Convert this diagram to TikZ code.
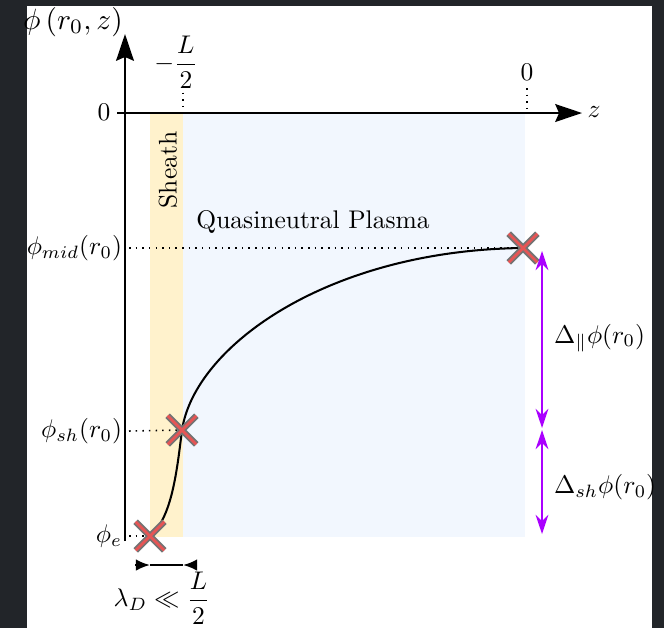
\documentclass[tikz,border=0pt]{standalone}
\usepackage{amsmath}
\usepackage{amssymb}
\usepackage{xcolor}
\definecolor{shotdark}{RGB}{34,37,41}
\definecolor{sheathyellow}{RGB}{255,242,204}
\definecolor{plasmablue}{RGB}{242,247,254}
\definecolor{crossred}{RGB}{230,85,85}
\definecolor{crossgray}{RGB}{115,115,115}
\definecolor{deltaviolet}{RGB}{170,0,255}
\usetikzlibrary{arrows.meta, positioning, shapes.misc}

\tikzset{
  axisline/.style={line width=0.8pt, -{Stealth[length=10.5pt,width=7pt,inset=1.5pt]}},
  levelline/.style={dotted, line width=0.6pt},
  xmark/.style={cross out, draw=crossgray, double=crossred, double distance=1.1pt,
    line width=0.7pt, minimum size=10.5pt, inner sep=0pt},
  deltaarrow/.style={deltaviolet, line width=0.8pt,
    {Stealth[length=7.5pt,width=5pt]}-{Stealth[length=7.5pt,width=5pt]}},
  lambdaarrow/.style={line width=0.8pt, -{Latex[length=5.5pt,width=4.5pt]}},
}

\begin{document}
\begin{tikzpicture}[x=0.392pt, y=-0.392pt]
  \useasboundingbox (0,0) rectangle (664,628);
  % screenshot frame
  \fill[shotdark] (0,0) rectangle (664,628);
  \fill[white] (27,6) rectangle (652,628);
  % sheath and plasma regions
  \fill[sheathyellow] (150,113) rectangle (183,537);
  \fill[plasmablue] (183,113) rectangle (525,537);

  % points of the profile
  \coordinate (pe) at (150,536);
  \coordinate (psh) at (182,430);
  \coordinate (pmid) at (523,248);

  % axes
  \coordinate (ybot) at (125,541);
  \coordinate (ytop) at (125,34);
  \coordinate (xleft) at (117,113);
  \coordinate (xright) at (582,113);
  \draw[axisline] (ybot) -- (ytop);
  \draw[axisline] (xleft) -- (xright);
  \node[scale=1.15] (ylabel) at (73,22) {$\phi\left(r_0,z\right)$};
  \node (zlabel) at (594,112) {$z$};
  \node (zero) at (104,112) {$0$};

  % ticks on top
  \node (lhalf) at (176,62) {$-\dfrac{L}{2}$};
  \node (zzero) at (527,72) {$0$};
  \draw[levelline] (183,86) -- (183,111);
  \draw[levelline] (527,88) -- (527,111);

  \node[rotate=90] (sheath) at (168,170) {Sheath};
  \node (plasma) at (313,222) {Quasineutral Plasma};

  % potential levels
  \node[anchor=east] (phimid) at (131,248) {$\phi_{mid}(r_0)$};
  \node[anchor=east] (phish) at (131,431) {$\phi_{sh}(r_0)$};
  \node[anchor=east] (phie) at (131,536) {$\phi_e$};
  \draw[levelline] (129,248) -- (pmid);
  \draw[levelline] (129,431) -- (psh);
  \draw[levelline] (129,536) -- (pe);

  % profile
  \draw[line width=0.8pt] (pe) .. controls (172,518) and (177,470) .. (psh)
    .. controls (195,345) and (330,250) .. (pmid);
  \node[xmark] (xe) at (pe) {};
  \node[xmark] (xsh) at (psh) {};
  \node[xmark] (xmid) at (pmid) {};

  % potential drops
  \coordinate (dtop) at (542,251);
  \coordinate (dup) at (542,428);
  \coordinate (ddown) at (542,430);
  \coordinate (dbot) at (542,534);
  \draw[deltaarrow] (dtop) -- (dup);
  \draw[deltaarrow] (ddown) -- (dbot);
  \node[right] (dpar) at (545,338) {$\Delta_\parallel\phi(r_0)$};
  \node[right] (dsh) at (545,487) {$\Delta_{sh}\phi(r_0)$};

  % Debye length
  \coordinate (la) at (135,565);
  \coordinate (lb) at (150,565);
  \coordinate (lc) at (183,565);
  \coordinate (ld) at (197,565);
  \draw[lambdaarrow] (la) -- (lb);
  \draw[lambdaarrow] (ld) -- (lc);
  \draw[line width=0.8pt] (lb) -- (lc);
  \node (lambda) at (162,598) {$\lambda_D \ll \dfrac{L}{2}$};
\end{tikzpicture}
\end{document}
